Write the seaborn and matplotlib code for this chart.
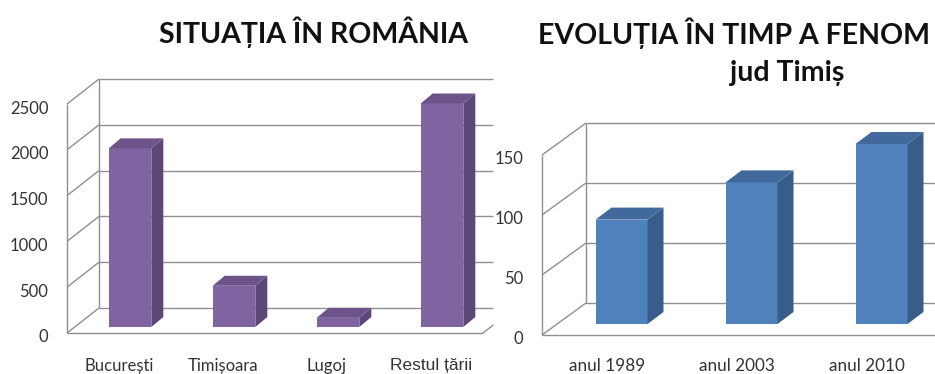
import matplotlib
matplotlib.use("Agg")
import matplotlib.pyplot as plt
import seaborn as sns
import pandas as pd
from matplotlib.patches import Polygon
from matplotlib.transforms import ScaledTranslation

# ---- data -------------------------------------------------------------
ro_categories = ["București", "Timișoara", "Lugoj", "Restul țării"]
ro_values = [1950, 450, 100, 2440]
ro_ticks = [0, 500, 1000, 1500, 2000, 2500]

tm_categories = ["anul 1989", "anul 2003", "anul 2010"]
tm_values = [87, 118, 150]
tm_ticks = [0, 50, 100, 150]

# ---- style ------------------------------------------------------------
sns.set_style("white")
FONT = ["Lato", "DejaVu Sans"]
plt.rcParams["font.family"] = FONT

GRID = "#8f8f8f"
TEXT = "#333333"
PURPLE = ("#8064A2", "#5C4778", "#6C5489")   # front, side, top
BLUE = ("#4F81BD", "#385D8A", "#41699B")

W, H, DPI = 935, 374, 100
fig = plt.figure(figsize=(W / DPI, H / DPI), dpi=DPI)
fig.patch.set_facecolor("white")


def axes_px(x0, x1, y_top, y_bottom):
    """Axes placed by pixel edges (measured from the top-left corner)."""
    return fig.add_axes([x0 / W, 1 - y_bottom / H, (x1 - x0) / W, (y_bottom - y_top) / H])


def column_chart_3d(ax, cats, vals, ticks, xlim, colors, wall, place, depth,
                    bar_width, back_end, floor_end, ytick_size, xtick_size,
                    xpad, ypad):
    x0, x1 = xlim
    y0, y1 = ticks[0], ticks[-1]
    bb = ax.get_position()
    px_x = bb.width * W / (x1 - x0)
    px_y = bb.height * H / (y1 - y0)

    df = pd.DataFrame({"cat": cats, "val": vals})
    sns.barplot(data=df, x="cat", y="val", ax=ax, color=colors[0],
                width=bar_width, saturation=1, linewidth=0, zorder=3)

    # walls and gridlines of the 3-D frame
    gx, gy = wall[0] / px_x, wall[1] / px_y
    kw = dict(color=GRID, lw=1.0, clip_on=False, zorder=1,
              solid_capstyle="butt")
    ax.plot([x0, x0], [y0, y1], **kw)
    ax.plot([x0 + gx, x0 + gx], [y0 + gy, y1 + gy], **kw)
    for v in ticks:
        ax.plot([x0, x0 + gx], [v, v + gy], **kw)
        ax.plot([x0 + gx, back_end], [v + gy, v + gy], **kw)
    ax.plot([x0, floor_end], [y0, y0], **kw)

    # extrude each seaborn bar into a box
    ox, oy = place[0] / px_x, place[1] / px_y
    dx, dy = depth[0] / px_x, depth[1] / px_y
    for p in list(ax.patches):
        bx, w, h = p.get_x() + ox, p.get_width(), p.get_height()
        by = p.get_y() + oy
        p.set_x(bx)
        p.set_y(by)
        p.set_clip_on(False)
        side = [(bx + w, by), (bx + w + dx, by + dy),
                (bx + w + dx, by + h + dy), (bx + w, by + h)]
        top = [(bx, by + h), (bx + w, by + h),
               (bx + w + dx, by + h + dy), (bx + dx, by + h + dy)]
        ax.add_patch(Polygon(side, closed=True, facecolor=colors[1],
                             edgecolor="none", zorder=3, clip_on=False))
        ax.add_patch(Polygon(top, closed=True, facecolor=colors[2],
                             edgecolor="none", zorder=3, clip_on=False))

    ax.set_xlim(x0, x1)
    ax.set_ylim(y0, y1)
    ax.set_yticks(ticks)
    ax.set_yticklabels([str(t) for t in ticks])
    ax.set_xlabel("")
    ax.set_ylabel("")
    ax.tick_params(axis="y", length=0, pad=ypad, labelsize=ytick_size,
                   labelcolor=TEXT)
    ax.tick_params(axis="x", length=0, pad=xpad, labelsize=xtick_size,
                   labelcolor=TEXT)
    # value labels sit slightly below their gridline
    shift = ScaledTranslation(0, -3 / DPI, fig.dpi_scale_trans)
    for lab in ax.get_yticklabels():
        lab.set_transform(lab.get_transform() + shift)
    for s in ax.spines.values():
        s.set_visible(False)
    ax.set_facecolor("none")
    return px_x, px_y, gx, gy


# ---- left: Romania ----------------------------------------------------
ax1 = axes_px(67, 483, 104, 333)
px_x, px_y, gx, gy = column_chart_3d(
    ax1, ro_categories, ro_values, ro_ticks, (-0.5, 3.5), PURPLE,
    wall=(32, 25), place=(11, 6), depth=(12, 10), bar_width=0.41,
    back_end=3.5 + 10 / 104, floor_end=3.5, ytick_size=12, xtick_size=12,
    xpad=18, ypad=13.5)
# start of the right-hand floor edge
f = 10 / 32
ax1.plot([3.5, 3.5 + gx * f], [0, gy * f], color=GRID, lw=1.0,
         clip_on=False, zorder=1)
last = ax1.get_xticklabels()[-1]
last.set_fontfamily(["Liberation Sans", "DejaVu Sans"])
last.set_fontsize(12.5)

# ---- right: Timis county ---------------------------------------------
xr = -0.5 + (935 - 542) / 130
ax2 = axes_px(542, 935, 155, 335)
column_chart_3d(
    ax2, tm_categories, tm_values, tm_ticks, (-0.5, xr), BLUE,
    wall=(44, 32), place=(14.5, 11), depth=(16, 12), bar_width=0.40,
    back_end=xr, floor_end=xr, ytick_size=12, xtick_size=12.3,
    xpad=16.5, ypad=13.5)

# ---- titles -----------------------------------------------------------
fig.text(313.5 / W, 1 - 32 / H, "SITUAȚIA ÎN ROMÂNIA", ha="center",
         va="center", fontsize=20.5, fontweight="bold", color="#111111",
         family=FONT)
fig.text(538 / W, 1 - 33 / H, "EVOLUȚIA ÎN TIMP A FENOM", ha="left",
         va="center", fontsize=20.5, fontweight="bold", color="#111111",
         family=FONT)
fig.text(787 / W, 1 - 73 / H, "jud Timiș", ha="center", va="center",
         fontsize=20.5, fontweight="bold", color="#111111", family=FONT)

fig.savefig("out.png", dpi=DPI, facecolor="white")
